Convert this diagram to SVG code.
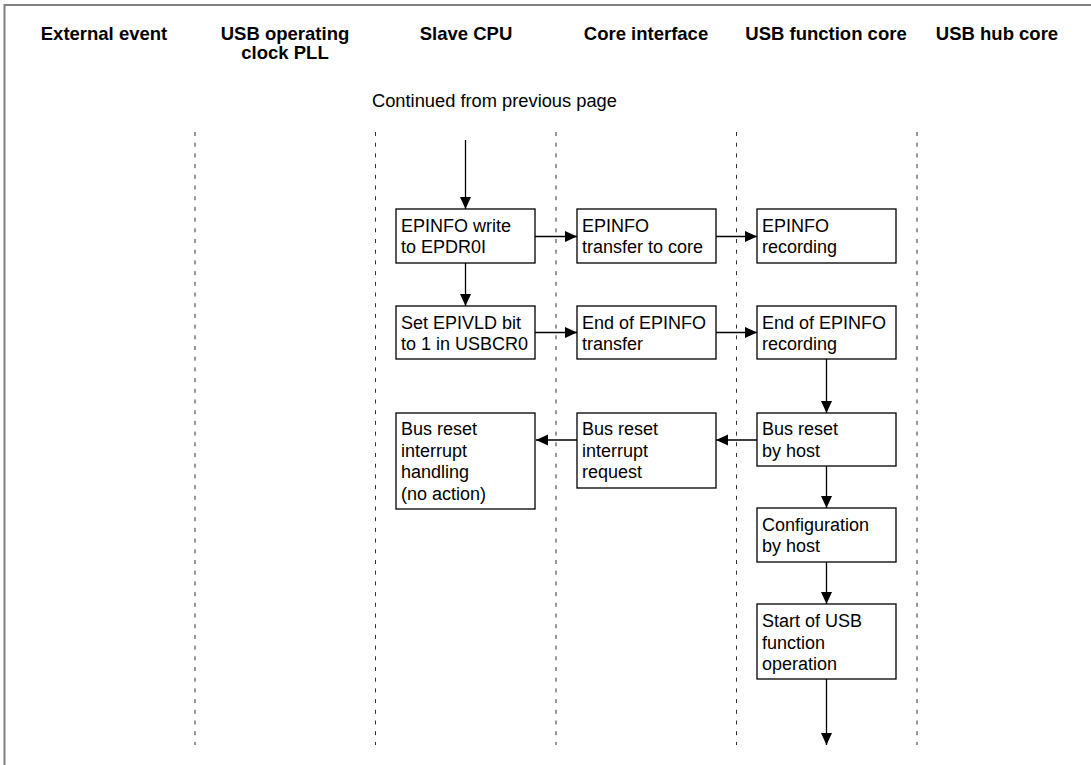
<svg xmlns="http://www.w3.org/2000/svg" width="1091" height="765" viewBox="0 0 1091 765">
<style>
.bg{fill:#ffffff}
.frame{stroke:#808080;stroke-width:2;fill:none}
.lane{stroke:#333;stroke-width:1;stroke-dasharray:4 6.7;fill:none}
.hd{font-family:"Liberation Sans",Arial,sans-serif;font-weight:bold;font-size:18.5px;fill:#000;text-anchor:middle}
.note{font-family:"Liberation Sans",Arial,sans-serif;font-size:18.3px;fill:#000}
.box{fill:#fff;stroke:#000;stroke-width:1.3}
.lbl{font-family:"Liberation Sans",Arial,sans-serif;font-size:18px;fill:#000}
.conn{stroke:#000;stroke-width:1.3;fill:none;marker-end:url(#ah)}
</style>
<defs>
<marker id="ah" markerUnits="userSpaceOnUse" markerWidth="13" markerHeight="12" refX="12" refY="5.5" orient="auto">
<path d="M0,0 L12,5.5 L0,11 z" fill="#000"/>
</marker>
</defs>
<rect class="bg" x="0" y="0" width="1091" height="765"/>
<path class="frame" d="M1091,5 L4.5,5 L4.5,765"/>
<g id="headings">
<text class="hd" x="104" y="40">External event</text>
<text class="hd" x="285" y="40">USB operating</text>
<text class="hd" x="285" y="59">clock PLL</text>
<text class="hd" x="466" y="40">Slave CPU</text>
<text class="hd" x="646" y="40">Core interface</text>
<text class="hd" x="826" y="40">USB function core</text>
<text class="hd" x="997" y="40">USB hub core</text>
</g>
<text class="note" x="372" y="107">Continued from previous page</text>
<g id="lanes">
<line class="lane" x1="195" y1="132" x2="195" y2="745"/>
<line class="lane" x1="375.5" y1="132" x2="375.5" y2="745"/>
<line class="lane" x1="556" y1="132" x2="556" y2="745"/>
<line class="lane" x1="736.5" y1="132" x2="736.5" y2="745"/>
<line class="lane" x1="917" y1="132" x2="917" y2="745"/>
</g>
<g id="connectors">
<line class="conn" x1="465.5" y1="140" x2="465.5" y2="209"/>
<line class="conn" x1="465.5" y1="263" x2="465.5" y2="306"/>
<line class="conn" x1="535" y1="236.5" x2="577" y2="236.5"/>
<line class="conn" x1="716" y1="236.5" x2="757" y2="236.5"/>
<line class="conn" x1="535" y1="332.5" x2="577" y2="332.5"/>
<line class="conn" x1="716" y1="332.5" x2="757" y2="332.5"/>
<line class="conn" x1="826.5" y1="359" x2="826.5" y2="413"/>
<line class="conn" x1="757" y1="440" x2="716" y2="440"/>
<line class="conn" x1="577" y1="440" x2="536" y2="440"/>
<line class="conn" x1="826.5" y1="466" x2="826.5" y2="508"/>
<line class="conn" x1="826.5" y1="562" x2="826.5" y2="604"/>
<line class="conn" x1="826.5" y1="679" x2="826.5" y2="745"/>
</g>
<g id="n_epinfo_write">
<rect class="box" x="396" y="209" width="139" height="54"/>
<text class="lbl" x="401" y="232">EPINFO write</text>
<text class="lbl" x="401" y="253">to EPDR0I</text>
</g>
<g id="n_epinfo_transfer">
<rect class="box" x="577" y="209" width="139" height="54"/>
<text class="lbl" x="582" y="232">EPINFO</text>
<text class="lbl" x="582" y="253">transfer to core</text>
</g>
<g id="n_epinfo_recording">
<rect class="box" x="757" y="209" width="139" height="54"/>
<text class="lbl" x="762" y="232">EPINFO</text>
<text class="lbl" x="762" y="253">recording</text>
</g>
<g id="n_set_epivld">
<rect class="box" x="396" y="306" width="139" height="53"/>
<text class="lbl" x="401" y="329">Set EPIVLD bit</text>
<text class="lbl" x="401" y="350">to 1 in USBCR0</text>
</g>
<g id="n_end_transfer">
<rect class="box" x="577" y="306" width="139" height="53"/>
<text class="lbl" x="582" y="329">End of EPINFO</text>
<text class="lbl" x="582" y="350">transfer</text>
</g>
<g id="n_end_recording">
<rect class="box" x="757" y="306" width="139" height="53"/>
<text class="lbl" x="762" y="329">End of EPINFO</text>
<text class="lbl" x="762" y="350">recording</text>
</g>
<g id="n_bus_reset_handling">
<rect class="box" x="396" y="413" width="139" height="96"/>
<text class="lbl" x="401" y="435">Bus reset</text>
<text class="lbl" x="401" y="456.5">interrupt</text>
<text class="lbl" x="401" y="478">handling</text>
<text class="lbl" x="401" y="499.5">(no action)</text>
</g>
<g id="n_bus_reset_request">
<rect class="box" x="577" y="413" width="139" height="75"/>
<text class="lbl" x="582" y="435">Bus reset</text>
<text class="lbl" x="582" y="456.5">interrupt</text>
<text class="lbl" x="582" y="478">request</text>
</g>
<g id="n_bus_reset_host">
<rect class="box" x="757" y="413" width="139" height="53"/>
<text class="lbl" x="762" y="435">Bus reset</text>
<text class="lbl" x="762" y="456.5">by host</text>
</g>
<g id="n_configuration">
<rect class="box" x="757" y="508" width="139" height="54"/>
<text class="lbl" x="762" y="531">Configuration</text>
<text class="lbl" x="762" y="552">by host</text>
</g>
<g id="n_start_usb">
<rect class="box" x="757" y="604" width="139" height="75"/>
<text class="lbl" x="762" y="627">Start of USB</text>
<text class="lbl" x="762" y="648.5">function</text>
<text class="lbl" x="762" y="670">operation</text>
</g>
</svg>
